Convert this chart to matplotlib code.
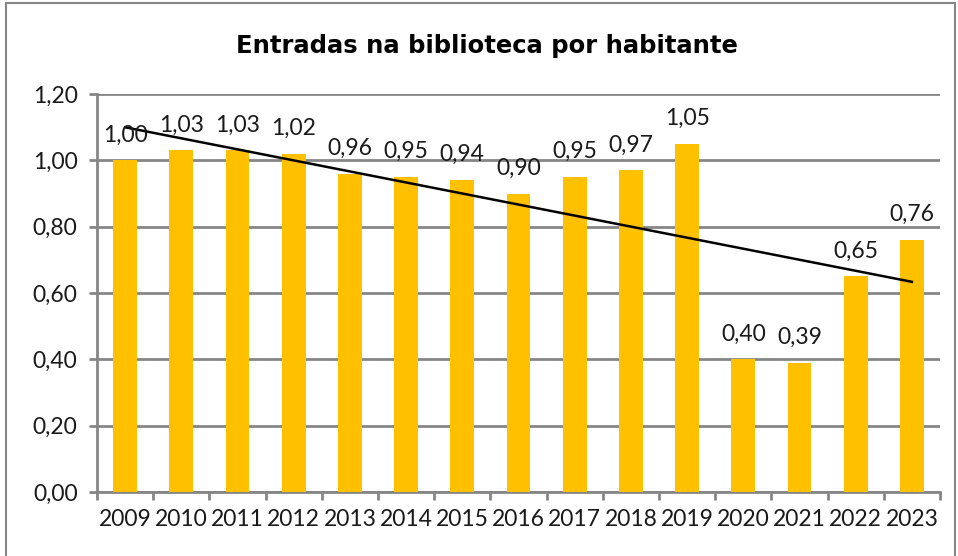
import numpy as np
import matplotlib.pyplot as plt
from matplotlib.patches import Rectangle

years = ["2009", "2010", "2011", "2012", "2013", "2014", "2015", "2016",
         "2017", "2018", "2019", "2020", "2021", "2022", "2023"]
values = [1.00, 1.03, 1.03, 1.02, 0.96, 0.95, 0.94, 0.90,
          0.95, 0.97, 1.05, 0.40, 0.39, 0.65, 0.76]
yticks = [0.0, 0.2, 0.4, 0.6, 0.8, 1.0, 1.2]

bar_color = "#FFC000"
grid_color = "#868686"
label_font = "Lato"
txt_color = "#1a1a1a"

fig = plt.figure(figsize=(9.58, 5.56), dpi=100)
ax = fig.add_axes([97 / 958, 1 - 492 / 556, (940 - 97) / 958, (492 - 94) / 556])

x = np.arange(len(years))
ax.bar(x, values, width=0.42, color=bar_color, zorder=3)

# linear trend line
coef = np.polyfit(x, values, 1)
ax.plot(x, np.polyval(coef, x), color="black", lw=1.8, zorder=4)

for xi, v in zip(x, values):
    ax.text(xi, v + 0.045, f"{v:.2f}".replace(".", ","), ha="center", va="bottom",
            fontsize=16.5, family=label_font, color=txt_color, zorder=5)

ax.set_xlim(-0.5, len(years) - 0.5)
ax.set_ylim(0, 1.2)
ax.set_yticks(yticks)
ax.set_yticklabels([f"{t:.2f}".replace(".", ",") for t in yticks],
                   fontsize=16.5, family=label_font, color=txt_color)
ax.yaxis.grid(True, color=grid_color, lw=2, zorder=0)
ax.set_axisbelow(True)

ax.set_xticks(x)
ax.set_xticklabels(years, fontsize=16.5, family=label_font, color=txt_color)
ax.set_xticks(np.arange(-0.5, len(years)), minor=True)
ax.tick_params(axis="x", which="major", length=0, pad=12)
ax.tick_params(axis="x", which="minor", length=6, width=2, color=grid_color, direction="out")
ax.tick_params(axis="y", length=6, width=2, color=grid_color, pad=8)

for side in ["top", "right"]:
    ax.spines[side].set_visible(False)
for side in ["left", "bottom"]:
    ax.spines[side].set_color(grid_color)
    ax.spines[side].set_linewidth(2)

fig.text(487 / 958, 1 - 46 / 556, "Entradas na biblioteca por habitante",
         ha="center", va="center", fontsize=17.5, fontweight="bold", family="DejaVu Sans")

fig.patches.append(Rectangle((6 / 958, -0.01), 949 / 958, 1 - 3 / 556 + 0.01,
                             transform=fig.transFigure, fill=False,
                             edgecolor=grid_color, lw=1.5))

fig.savefig("out.png", dpi=100)
